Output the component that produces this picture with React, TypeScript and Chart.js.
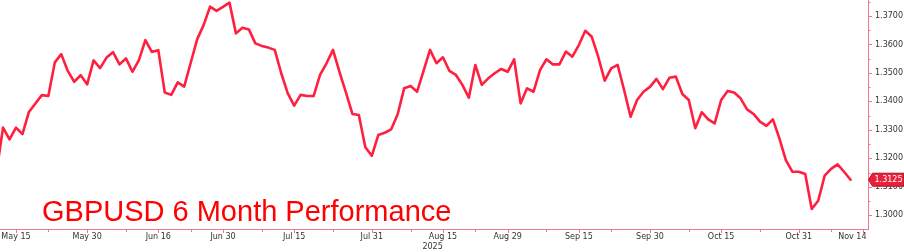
import React, { useEffect, useRef } from "react";
import { Chart, registerables } from "chart.js";

Chart.register(...registerables);

// Weekday index of the first value (May 12, 2025). May 15, 2025 = 0.
const FIRST_INDEX = -3;

// GBPUSD daily closes (weekdays), May 12 – Nov 12, 2025
const gbpusd = [
  1.3155, 1.3308, 1.3267, 1.3308, 1.3285, 1.3363, 1.3393, 1.3422, 1.3419, 1.3537,
  1.3566, 1.3507, 1.3469, 1.3492, 1.346, 1.3544, 1.3517, 1.3554, 1.3573, 1.353,
  1.3551, 1.3504, 1.3545, 1.3615, 1.3574, 1.358, 1.3431, 1.3423, 1.3467, 1.3452,
  1.3535, 1.3618, 1.3668, 1.3733, 1.3718, 1.3732, 1.3747, 1.3639, 1.3659, 1.3653,
  1.3604, 1.3595, 1.3589, 1.3581, 1.3499, 1.3429, 1.3385, 1.3423, 1.3419, 1.3419,
  1.3493, 1.3534, 1.3581, 1.3504, 1.3432, 1.3356, 1.3352, 1.3239, 1.3209, 1.3282,
  1.329, 1.3302, 1.3355, 1.3446, 1.3454, 1.3434, 1.3507, 1.3581, 1.3534, 1.3555,
  1.3507, 1.3493, 1.3458, 1.3413, 1.3528, 1.3458, 1.3481, 1.3499, 1.3514, 1.3504,
  1.3548, 1.3393, 1.3446, 1.3434, 1.351, 1.3548, 1.353, 1.353, 1.3575, 1.3557,
  1.3598, 1.3648, 1.3627, 1.3557, 1.3473, 1.3516, 1.3528, 1.344, 1.3346, 1.3405,
  1.3434, 1.3451, 1.3479, 1.3443, 1.3483, 1.3487, 1.3426, 1.3405, 1.3306, 1.3362,
  1.3337, 1.3323, 1.3405, 1.3437, 1.3431, 1.3411, 1.3372, 1.3356, 1.3329, 1.3314,
  1.3337, 1.327, 1.3194, 1.3153, 1.3153, 1.3145, 1.3022, 1.3051, 1.3139, 1.3163,
  1.3179, 1.3153, 1.3125,
];

const xTickIndex = [0, 11, 22, 32, 43, 55, 66, 76, 87, 98, 109, 121, 131];
const xTickLabels = [
  "May 15", "May 30", "Jun 16", "Jun 30", "Jul 15", "Jul 31", "Aug 15",
  "Aug 29", "Sep 15", "Sep 30", "Oct 15", "Oct 31", "Nov 14",
];
const xMinorTickIndex = [5, 17, 27, 38, 49, 61, 71, 82, 92, 104, 115, 126];
const yearLabel = "2025";
const yearLabelIndex = 64.4;

const yTicks = [1.3, 1.31, 1.32, 1.33, 1.34, 1.35, 1.36, 1.37];
const yMinorTicks = [1.305, 1.315, 1.325, 1.335, 1.345, 1.355, 1.365, 1.375];

const TITLE = "GBPUSD 6 Month Performance";

const X_MIN = -2.47;
const X_MAX = 131.7;
const Y_MIN = 1.29519;
const Y_MAX = 1.37562;

const LINE_COLOR = "#ff1f3f";
const AXIS_COLOR = "#f07888";
const TEXT_COLOR = "#333333";
const TICK_FONT = "8px 'DejaVu Sans'";

const decorPlugin = {
  id: "decor",
  beforeDatasetsDraw(chart: any) {
    const ctx = chart.ctx as CanvasRenderingContext2D;
    const area = chart.chartArea;
    ctx.save();
    ctx.fillStyle = "#ff0000";
    ctx.font = "29px 'Liberation Sans'";
    ctx.textAlign = "left";
    ctx.textBaseline = "alphabetic";
    ctx.fillText(TITLE, area.left + 42, area.bottom - 8);
    ctx.restore();
  },
  afterDraw(chart: any) {
    const ctx = chart.ctx as CanvasRenderingContext2D;
    const xs = chart.scales.x;
    const ys = chart.scales.y;
    const area = chart.chartArea;
    ctx.save();
    ctx.strokeStyle = AXIS_COLOR;
    ctx.lineWidth = 1;
    ctx.beginPath();
    xTickIndex.forEach((v) => {
      const px = Math.round(xs.getPixelForValue(v)) + 0.5;
      ctx.moveTo(px, area.bottom);
      ctx.lineTo(px, area.bottom + 4);
    });
    xMinorTickIndex.forEach((v) => {
      const px = Math.round(xs.getPixelForValue(v)) + 0.5;
      ctx.moveTo(px, area.bottom);
      ctx.lineTo(px, area.bottom + 3);
    });
    yTicks.forEach((v) => {
      const py = Math.round(ys.getPixelForValue(v)) + 0.5;
      ctx.moveTo(area.right, py);
      ctx.lineTo(area.right + 4, py);
    });
    yMinorTicks.forEach((v) => {
      const py = Math.round(ys.getPixelForValue(v)) + 0.5;
      if (py < area.top || py > area.bottom) return;
      ctx.moveTo(area.right, py);
      ctx.lineTo(area.right + 2.5, py);
    });
    ctx.stroke();

    // x labels
    ctx.fillStyle = TEXT_COLOR;
    ctx.font = TICK_FONT;
    ctx.textBaseline = "middle";
    ctx.textAlign = "left";
    xTickIndex.forEach((v, i) => {
      const label = xTickLabels[i];
      const w = ctx.measureText(label).width;
      let left = xs.getPixelForValue(v) - w / 2;
      if (left + w > area.right - 1.5) left = area.right - 1.5 - w;
      if (left < 0) left = 0;
      ctx.fillText(label, left, area.bottom + 8);
    });
    ctx.textAlign = "center";
    ctx.fillText(yearLabel, xs.getPixelForValue(yearLabelIndex), area.bottom + 18);

    // last value tag
    const last = gbpusd[gbpusd.length - 1];
    const ty = ys.getPixelForValue(last);
    const x0 = area.right + 0.5;
    const h = 13;
    ctx.beginPath();
    ctx.moveTo(x0, ty);
    ctx.lineTo(x0 + 4, ty - h / 2);
    ctx.lineTo(chart.width, ty - h / 2);
    ctx.lineTo(chart.width, ty + h / 2);
    ctx.lineTo(x0 + 4, ty + h / 2);
    ctx.closePath();
    ctx.fillStyle = "#e8223a";
    ctx.fill();
    ctx.strokeStyle = "#b0101f";
    ctx.lineWidth = 1;
    ctx.stroke();
    ctx.fillStyle = "#ffffff";
    ctx.textAlign = "left";
    ctx.textBaseline = "middle";
    ctx.font = TICK_FONT;
    ctx.fillText(last.toFixed(4), x0 + 6, ty + 0.5);
    ctx.restore();
  },
};

export default function App() {
  const canvasRef = useRef<HTMLCanvasElement | null>(null);

  useEffect(() => {
    document.body.style.margin = "0";
    const canvas = canvasRef.current;
    if (!canvas) return;
    const points = gbpusd.map((v, i) => ({ x: FIRST_INDEX + i, y: v }));
    const chart = new Chart(canvas, {
      type: "line",
      data: {
        datasets: [
          {
            data: points,
            borderColor: LINE_COLOR,
            borderWidth: 2.6,
            pointRadius: 0,
            tension: 0,
            borderJoinStyle: "round",
            borderCapStyle: "round",
            clip: 0,
          } as any,
        ],
      },
      options: {
        animation: false,
        responsive: false,
        devicePixelRatio: 1,
        layout: { padding: 0 },
        plugins: {
          legend: { display: false },
          tooltip: { enabled: false },
          title: { display: false },
        },
        scales: {
          x: {
            type: "linear",
            position: "bottom",
            min: X_MIN,
            max: X_MAX,
            grid: { display: false, drawTicks: false },
            border: { display: true, color: AXIS_COLOR, width: 1 },
            ticks: { display: false },
            afterFit: (scale: any) => {
              scale.height = 23;
              scale.paddingLeft = 0;
              scale.paddingRight = 0;
            },
          },
          y: {
            type: "linear",
            position: "right",
            min: Y_MIN,
            max: Y_MAX,
            grid: { display: false, drawTicks: false },
            border: { display: true, color: AXIS_COLOR, width: 1 },
            afterBuildTicks: (scale: any) => {
              scale.ticks = yTicks.map((v) => ({ value: v }));
            },
            ticks: {
              color: TEXT_COLOR,
              font: { family: "DejaVu Sans", size: 8 },
              padding: 7,
              callback: (v: any) => Number(v).toFixed(4),
            },
            afterFit: (scale: any) => {
              scale.width = 36;
              scale.paddingTop = 0;
              scale.paddingBottom = 0;
            },
          },
        },
      } as any,
      plugins: [decorPlugin],
    });
    return () => chart.destroy();
  }, []);

  return (
    <div style={{ position: "relative", width: 904, height: 252 }}>
      <canvas ref={canvasRef} width={904} height={252} style={{ display: "block" }} />
    </div>
  );
}
